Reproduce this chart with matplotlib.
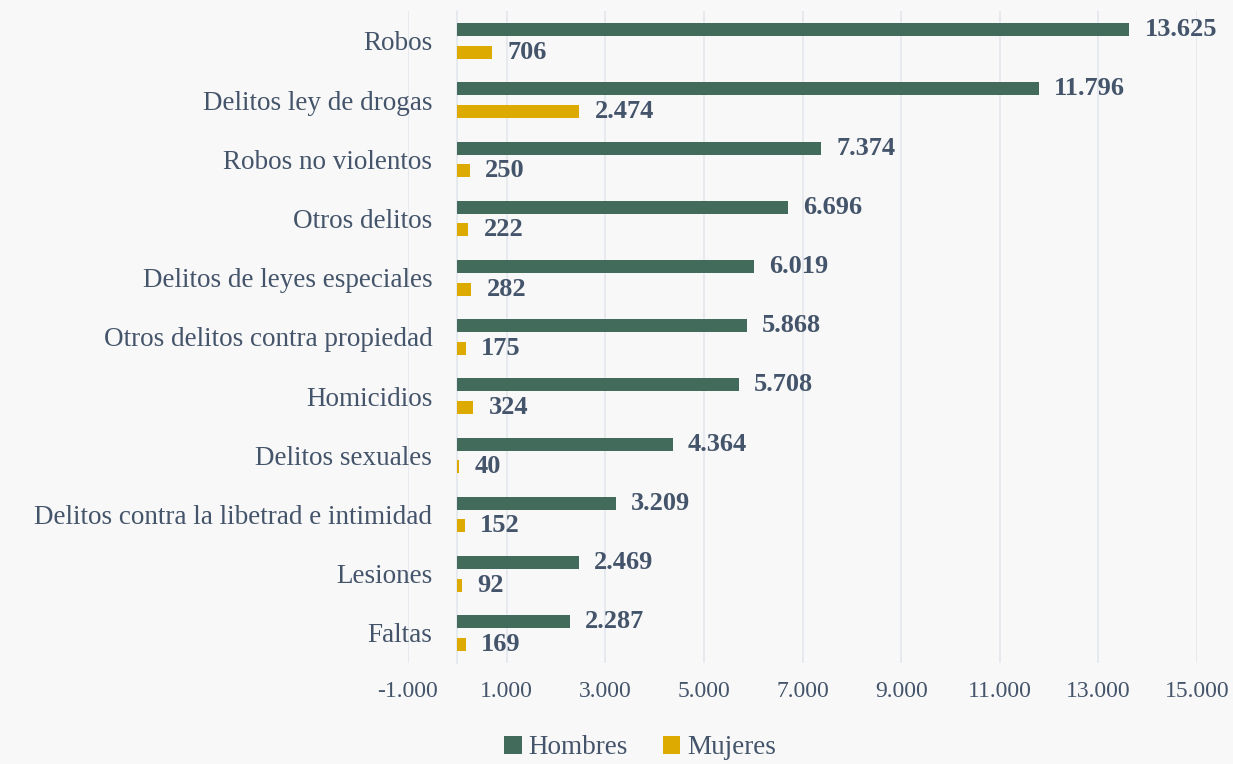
import matplotlib
matplotlib.use("Agg")
import matplotlib.pyplot as plt
import numpy as np

categories = ["Robos", "Delitos ley de drogas", "Robos no violentos", "Otros delitos",
              "Delitos de leyes especiales", "Otros delitos contra propiedad", "Homicidios",
              "Delitos sexuales", "Delitos contra la libetrad e intimidad", "Lesiones", "Faltas"]
hombres = [13625, 11796, 7374, 6696, 6019, 5868, 5708, 4364, 3209, 2469, 2287]
mujeres = [706, 2474, 250, 222, 282, 175, 324, 40, 152, 92, 169]
xticks = [-1000, 1000, 3000, 5000, 7000, 9000, 11000, 13000, 15000]

def fmt(v):
    return f"{v:,}".replace(",", ".")

plt.rcParams['font.family'] = ['Liberation Serif', 'DejaVu Serif']
txt = '#44546a'
bg = '#f8f8f8'
green = '#436b5c'
gold = '#dcaa00'
gridc = '#e3e7ec'

fig = plt.figure(figsize=(12.33, 7.64), dpi=100, facecolor=bg)
ax = fig.add_axes([408/1233, 1-662.6/764, (1197-408)/1233, (662.6-11.4)/764], facecolor=bg)
for s in ['top', 'right', 'bottom']:
    ax.spines[s].set_visible(False)
ax.spines['left'].set_position(('data', 0))
ax.spines['left'].set_color(gridc)
ax.spines['left'].set_linewidth(1.2)

y = np.arange(len(categories))
off = 0.19
h = 0.22
ax.barh(y - off, hombres, height=h, color=green, label='Hombres', zorder=3)
ax.barh(y + off, mujeres, height=h, color=gold, label='Mujeres', zorder=3)

for yi, v in zip(y, hombres):
    ax.annotate(fmt(v), (v, yi - off), xytext=(11, 0), textcoords='offset points',
                va='center', ha='left', fontsize=19, fontweight='bold', color=txt)
for yi, v in zip(y, mujeres):
    ax.annotate(fmt(v), (v, yi + off), xytext=(11, 0), textcoords='offset points',
                va='center', ha='left', fontsize=19, fontweight='bold', color=txt)

ax.set_xlim(-1000, 15000)
ax.set_ylim(len(categories) - 0.5, -0.5)
ax.set_xticks(xticks)
ax.set_xticklabels([fmt(t) for t in xticks], fontsize=17, color=txt)
ax.set_yticks(y)
ax.set_yticklabels(categories, fontsize=19.5, color=txt)
ax.tick_params(axis='both', length=0)
ax.tick_params(axis='x', pad=13)
ax.tick_params(axis='y', pad=18)
ax.grid(axis='x', color=gridc, linewidth=1.2, zorder=0)

leg = fig.legend(loc='center', bbox_to_anchor=(640/1233, 1-748/764), ncol=2, frameon=False,
                 fontsize=19.5, handlelength=0.65, handleheight=0.65, handletextpad=0.25,
                 columnspacing=1.3)
for t in leg.get_texts():
    t.set_color(txt)

fig.savefig('out.png', dpi=100, facecolor=bg)
